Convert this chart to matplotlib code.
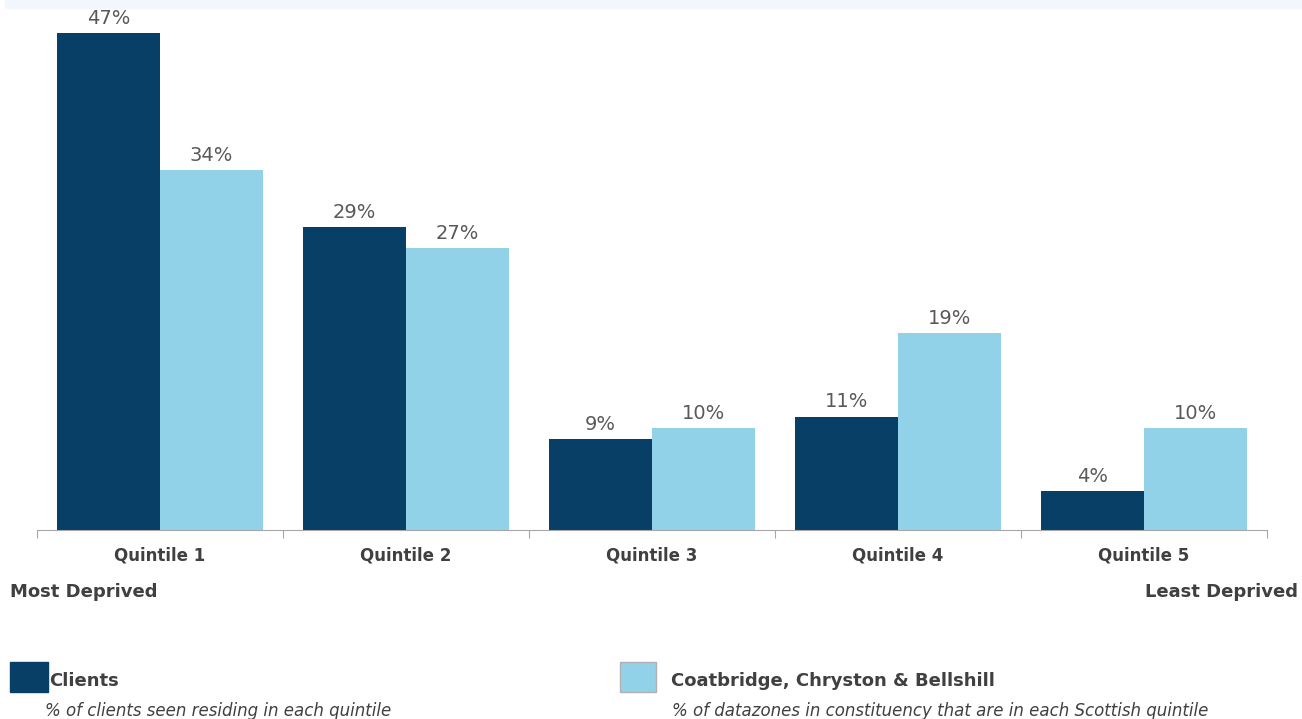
import numpy as np
import matplotlib.pyplot as plt
from matplotlib.patches import Rectangle

categories = ['Quintile 1', 'Quintile 2', 'Quintile 3', 'Quintile 4', 'Quintile 5']
# (labels are the rounded values)
clients = [46.9, 28.6, 8.6, 10.7, 3.7]
constituency = [34.0, 26.6, 9.6, 18.6, 9.6]

dark = '#073f66'
light = '#92d2e9'
txt = '#404040'

W, H = 1302, 719
fig = plt.figure(figsize=(W / 100, H / 100), dpi=100)
plt.rcParams['font.family'] = ['DejaVu Sans']

# light band across the top
fig.patches.append(Rectangle((5 / W, 1 - 8 / H), 1 - 5 / W, 8 / H,
                             transform=fig.transFigure, color='#f2f7fd', zorder=0))

ax = fig.add_axes([37 / W, (H - 530) / H, (1267 - 37) / W, 505 / H])
x = np.arange(len(categories))
bw = 0.418
b1 = ax.bar(x - bw / 2, clients, bw, color=dark)
b2 = ax.bar(x + bw / 2, constituency, bw, color=light)

for bars, vals in ((b1, clients), (b2, constituency)):
    for b, v in zip(bars, vals):
        ax.annotate(f'{v:.0f}%', (b.get_x() + b.get_width() / 2, v),
                    xytext=(0, 10.5), textcoords='offset points',
                    ha='center', va='center', fontsize=14, color='#595959',
                    annotation_clip=False)

ax.set_xlim(-0.5, len(categories) - 0.5)
ax.set_ylim(0, 505 / 10.6)
for s in ['top', 'right', 'left']:
    ax.spines[s].set_visible(False)
ax.spines['bottom'].set_color('#a6a6a6')
ax.set_yticks([])
ax.set_xticks(np.arange(-0.5, len(categories), 1.0))
ax.set_xticklabels([])
ax.tick_params(axis='x', length=6, color='#a6a6a6', direction='out')
ax.set_xticks(x, minor=True)
ax.set_xticklabels(categories, minor=True, fontsize=12, fontweight='bold', color=txt)
ax.tick_params(axis='x', which='minor', length=0, pad=12)

fig.text(10 / W, 1 - 592 / H, 'Most Deprived', ha='left', va='center',
         fontsize=13, fontweight='bold', color=txt)
fig.text(1298 / W, 1 - 592 / H, 'Least Deprived', ha='right', va='center',
         fontsize=13, fontweight='bold', color=txt)

# legend
fig.patches.append(Rectangle((10 / W, 1 - 692 / H), 38 / W, 30 / H,
                             transform=fig.transFigure, color=dark))
fig.patches.append(Rectangle((620 / W, 1 - 692 / H), 36 / W, 30 / H,
                             transform=fig.transFigure, facecolor=light,
                             edgecolor='#b0b0b0', linewidth=1))
fig.text(49 / W, 1 - 681 / H, 'Clients', ha='left', va='center',
         fontsize=13, fontweight='bold', color=txt)
fig.text(671 / W, 1 - 681 / H, 'Coatbridge, Chryston & Bellshill', ha='left', va='center',
         fontsize=13, fontweight='bold', color=txt)
fig.text(45 / W, 1 - 711 / H, '% of clients seen residing in each quintile', ha='left',
         va='center', fontsize=12, style='italic', color=txt)
fig.text(672 / W, 1 - 711 / H, '% of datazones in constituency that are in each Scottish quintile',
         ha='left', va='center', fontsize=12, style='italic', color=txt)

fig.savefig('out.png', dpi=100)
